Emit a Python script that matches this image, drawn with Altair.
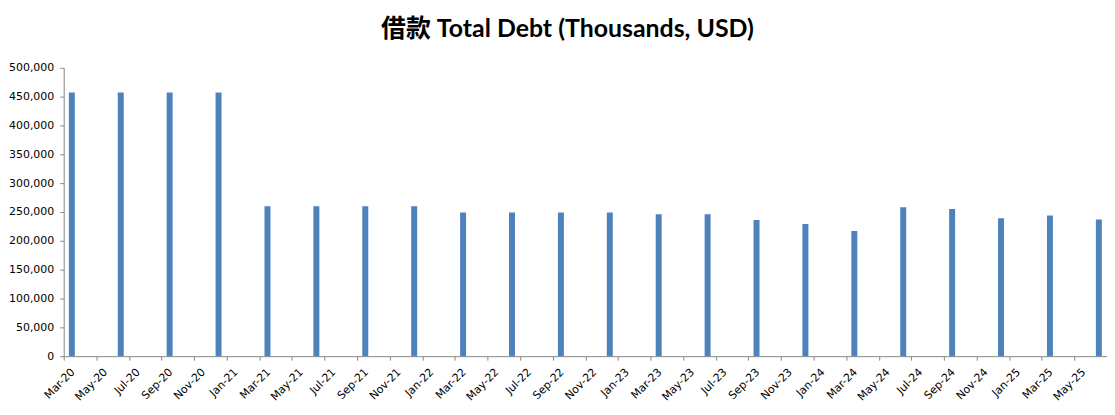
import altair as alt
import pandas as pd

# Quarter-end categories and total debt values (thousands USD)
quarters = ["Mar-20", "Jun-20", "Sep-20", "Dec-20",
            "Mar-21", "Jun-21", "Sep-21", "Dec-21",
            "Mar-22", "Jun-22", "Sep-22", "Dec-22",
            "Mar-23", "Jun-23", "Sep-23", "Dec-23",
            "Mar-24", "Jun-24", "Sep-24", "Dec-24",
            "Mar-25", "Jun-25"]
debt = [457000, 457000, 457000, 457000,
        260000, 260000, 260000, 260000,
        249000, 249000, 249000, 249000,
        246000, 246000, 236000, 229000,
        217000, 258000, 255000, 239000,
        244000, 237000]

month_names = ["Jan", "Feb", "Mar", "Apr", "May", "Jun",
               "Jul", "Aug", "Sep", "Oct", "Nov", "Dec"]
years = [20, 21, 22, 23, 24, 25]
y_ticks = [0, 50000, 100000, 150000, 200000, 250000,
           300000, 350000, 400000, 450000, 500000]

all_months = [f"{m}-{y:02d}" for y in years for m in month_names]
domain = all_months[all_months.index("Mar-20"):all_months.index("Jun-25") + 1]
tick_labels = domain[::2]

df = pd.DataFrame({"quarter": quarters, "debt": debt})

W, H = 1049, 290
step = W / len(domain)

chart = alt.Chart(df).mark_bar(color="#4F81BD", size=6).encode(
    x=alt.X("quarter:O",
            scale=alt.Scale(domain=domain, paddingInner=0, paddingOuter=0),
            axis=alt.Axis(values=tick_labels, labelAngle=-45, labelAlign="right",
                          labelBaseline="middle", tickOffset=-step / 2,
                          labelOffset=step / 2 + 1,
                          labelPadding=10, title=None)),
    y=alt.Y("debt:Q",
            scale=alt.Scale(domain=[0, 500000], nice=False),
            axis=alt.Axis(values=y_ticks, labelExpr="format(datum.value, ',.0f')",
                          grid=False, labelPadding=6, title=None)),
).properties(
    width=W, height=H,
    title=alt.TitleParams("借款 Total Debt (Thousands, USD)",
                          font="Lato, Noto Sans CJK SC", fontSize=25,
                          fontWeight="bold", color="#000000",
                          anchor="middle", dx=-18, offset=20),
    autosize=alt.AutoSizeParams(type="none"),
    padding={"left": 56, "top": 59, "right": 0, "bottom": 50},
).configure_view(stroke=None).configure_axis(
    domainColor="#868686", tickColor="#868686", tickSize=4,
    labelFont="DejaVu Sans", labelFontSize=11, labelColor="#000000",
)

chart.save("out.html", embed_options={"renderer": "svg", "actions": False})
